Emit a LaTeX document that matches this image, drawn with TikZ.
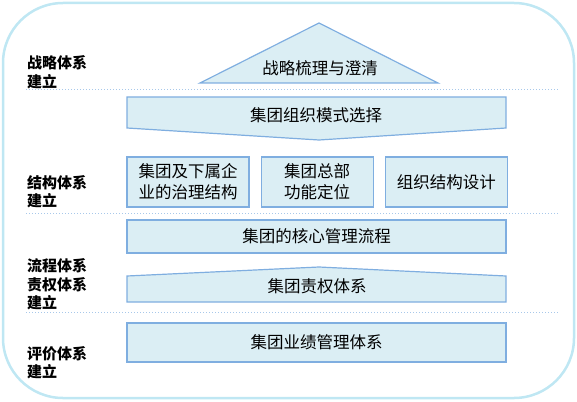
\documentclass[tikz,border=0pt]{standalone}
\usepackage{fontspec}
\setmainfont{Noto Sans CJK SC}
\usetikzlibrary{positioning}
\definecolor{boxfill}{HTML}{DBEEF4}
\definecolor{boxline}{HTML}{7FAEE0}
\definecolor{frameline}{HTML}{BFE7F3}
\definecolor{sepline}{HTML}{A8C8EA}

\begin{document}
\begin{tikzpicture}[x=1pt,y=-1pt,
  blk/.style={draw=boxline,fill=boxfill,line width=1.2pt},
  box/.style={blk,minimum height=50pt,inner sep=2pt,align=center,
    font=\fontsize{16.5}{21}\selectfont},
  bar/.style={blk,minimum width=379pt,font=\fontsize{16.5}{20}\selectfont},
  txt/.style={inner sep=0pt,font=\fontsize{16.5}{20}\selectfont},
  lbl/.style={anchor=west,align=left,inner sep=0pt,
    font=\fontsize{15}{18.5}\selectfont\bfseries},
  sep/.style={sepline,dotted,line width=1pt}]
\useasboundingbox (0,0) rectangle (577,401);
\draw[frameline,line width=2.5pt,rounded corners=60pt] (3,3) rectangle (574,398);

% left labels
\node[lbl] (lstrat) at (27,72) {战略体系\\建立};
\node[lbl] (lstruct) at (27,191.5) {结构体系\\建立};
\node[lbl] (lproc) at (27,284.5) {流程体系\\责权体系\\建立};
\node[lbl] (leval) at (27,362.5) {评价体系\\建立};

% separators
\coordinate (s1a) at (26,90);  \coordinate (s1b) at (558,90);
\coordinate (s2a) at (26,213); \coordinate (s2b) at (558,213);
\coordinate (s3a) at (26,312); \coordinate (s3b) at (558,312);
\draw[sep] (s1a) -- (s1b);
\draw[sep] (s2a) -- (s2b);
\draw[sep] (s3a) -- (s3b);

% strategy triangle
\filldraw[blk] (200,83) -- (319,23) -- (438,83) -- cycle;
\node[txt] (strat) at (320,68) {战略梳理与澄清};

% model choice, pointing down
\filldraw[blk] (127,97) -- (506,97) -- (506,128) -- (319,140) -- (127,128) -- cycle;
\node[txt] (model) at (316,115) {集团组织模式选择};

% three structure boxes
\node[box,minimum width=122pt] (govern) at (188,182) {集团及下属企\\业的治理结构};
\node[box,minimum width=112pt,right=11pt of govern] (hq) {集团总部\\功能定位};
\node[box,minimum width=122pt,right=11pt of hq] (design) {组织结构设计};

% process
\node[bar,minimum height=33pt] (proc) at (316.5,236.5) {集团的核心管理流程};

% authority, pointing up
\filldraw[blk] (127,276) -- (319,267) -- (506,276) -- (506,302) -- (127,302) -- cycle;
\node[txt] (auth) at (317,286) {集团责权体系};

% performance
\node[bar,minimum height=39pt] (perf) at (316.5,342.5) {集团业绩管理体系};
\end{tikzpicture}
\end{document}
